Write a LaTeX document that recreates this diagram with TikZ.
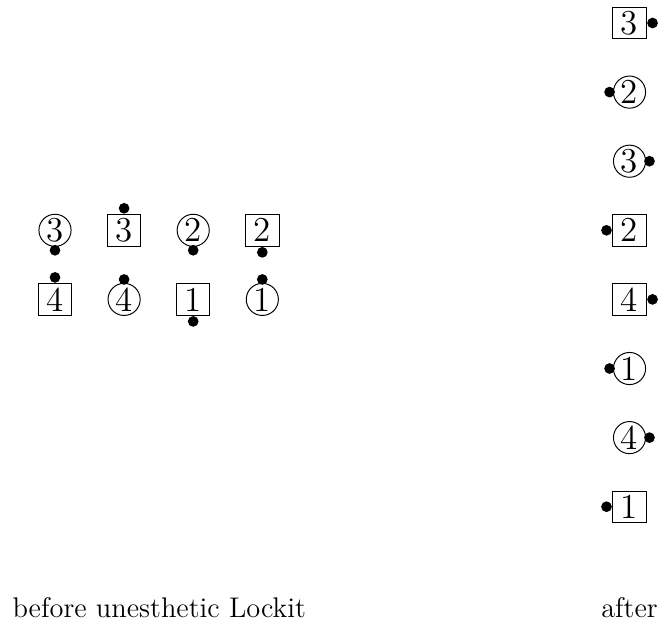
\documentclass[tikz,border=0pt]{standalone}
\usepackage{amsmath,amssymb}
\usepackage{tikz}
\usepackage{xcolor}

\begin{document}
\begin{tikzpicture}[
  sq/.style={draw, inner sep=0pt, minimum width=0.483cm, minimum height=0.454cm, font=\fontsize{14.4}{17}\selectfont},
  rd/.style={draw, circle, inner sep=0pt, minimum size=0.465cm, font=\fontsize{14.4}{17}\selectfont},
  pin/.style={circle, fill, inner sep=0pt, minimum size=0.155cm},
  lbl/.style={font=\fontsize{11.7}{14}\selectfont, inner sep=0pt}]
  \useasboundingbox (0,0) rectangle (9.58,9.016);
  % Before
  \node[rd] (bc3) at (0.796,5.683) {3};
  \node[sq] (bs3) at (1.796,5.683) {3};
  \node[rd] (bc2) at (2.796,5.683) {2};
  \node[sq] (bs2) at (3.796,5.683) {2};
  \node[sq] (bs4) at (0.796,4.683) {4};
  \node[rd] (bc4) at (1.796,4.683) {4};
  \node[sq] (bs1) at (2.796,4.683) {1};
  \node[rd] (bc1) at (3.796,4.683) {1};
  \node[pin, anchor=north, yshift=1pt] (bc3p) at (bc3.south) {};
  \node[pin, anchor=south] (bs3p) at (bs3.north) {};
  \node[pin, anchor=north, yshift=1pt] (bc2p) at (bc2.south) {};
  \node[pin, anchor=north] (bs2p) at (bs2.south) {};
  \node[pin, anchor=south] (bs4p) at (bs4.north) {};
  \node[pin, anchor=south, yshift=-1pt] (bc4p) at (bc4.north) {};
  \node[pin, anchor=north] (bs1p) at (bs1.south) {};
  \node[pin, anchor=south, yshift=-1pt] (bc1p) at (bc1.north) {};
  \node[lbl, anchor=base west] (before) at (0.174,0.087) {before unesthetic Lockit};
  % After
  \node[sq] (as3) at (9.11,8.683) {3};
  \node[rd] (ac2) at (9.11,7.683) {2};
  \node[rd] (ac3) at (9.11,6.683) {3};
  \node[sq] (as2) at (9.11,5.683) {2};
  \node[sq] (as4) at (9.11,4.683) {4};
  \node[rd] (ac1) at (9.11,3.683) {1};
  \node[rd] (ac4) at (9.11,2.683) {4};
  \node[sq] (as1) at (9.11,1.683) {1};
  \node[pin, anchor=west] (as3p) at (as3.east) {};
  \node[pin, anchor=east, xshift=1pt] (ac2p) at (ac2.west) {};
  \node[pin, anchor=west, xshift=-1pt] (ac3p) at (ac3.east) {};
  \node[pin, anchor=east] (as2p) at (as2.west) {};
  \node[pin, anchor=west] (as4p) at (as4.east) {};
  \node[pin, anchor=east, xshift=1pt] (ac1p) at (ac1.west) {};
  \node[pin, anchor=west, xshift=-1pt] (ac4p) at (ac4.east) {};
  \node[pin, anchor=east] (as1p) at (as1.west) {};
  \node[lbl, anchor=base] (after) at (9.11,0.087) {after};
\end{tikzpicture}
\end{document}
